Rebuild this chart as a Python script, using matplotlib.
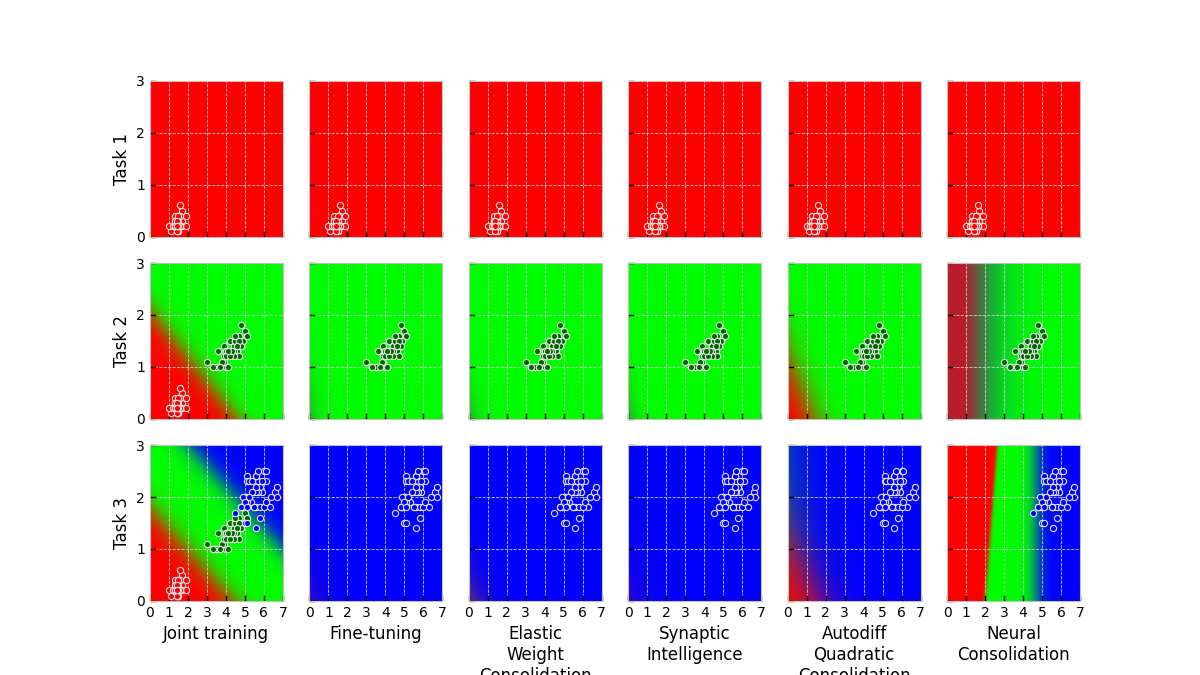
import numpy as np
import matplotlib.pyplot as plt

setosa_len = [1.4, 1.4, 1.3, 1.5, 1.4, 1.7, 1.4, 1.5, 1.4, 1.5, 1.5, 1.6, 1.4, 1.1, 1.2, 1.5, 1.3,
              1.4, 1.7, 1.5, 1.7, 1.5, 1.0, 1.7, 1.9, 1.6, 1.6, 1.5, 1.4, 1.6, 1.6, 1.5, 1.5, 1.4,
              1.5, 1.2, 1.3, 1.4, 1.3, 1.5, 1.3, 1.3, 1.3, 1.6, 1.9, 1.4, 1.6, 1.4, 1.5, 1.4]
setosa_wid = [0.2, 0.2, 0.2, 0.2, 0.2, 0.4, 0.3, 0.2, 0.2, 0.1, 0.2, 0.2, 0.1, 0.1, 0.2, 0.4, 0.4,
              0.3, 0.3, 0.3, 0.2, 0.4, 0.2, 0.5, 0.2, 0.2, 0.4, 0.2, 0.2, 0.2, 0.2, 0.4, 0.1, 0.2,
              0.2, 0.2, 0.2, 0.1, 0.2, 0.2, 0.3, 0.3, 0.2, 0.6, 0.4, 0.3, 0.2, 0.2, 0.2, 0.2]

versicolor_len = [4.7, 4.5, 4.9, 4.0, 4.6, 4.5, 4.7, 3.3, 4.6, 3.9, 3.5, 4.2, 4.0, 4.7, 3.6, 4.4, 4.5,
                  4.1, 4.5, 3.9, 4.8, 4.0, 4.9, 4.7, 4.3, 4.4, 4.8, 5.0, 4.5, 3.5, 3.8, 3.7, 3.9, 5.1,
                  4.5, 4.5, 4.7, 4.4, 4.1, 4.0, 4.4, 4.6, 4.0, 3.3, 4.2, 4.2, 4.2, 4.3, 3.0, 4.1]
versicolor_wid = [1.4, 1.5, 1.5, 1.3, 1.5, 1.3, 1.6, 1.0, 1.3, 1.4, 1.0, 1.5, 1.0, 1.4, 1.3, 1.4, 1.5,
                  1.0, 1.5, 1.1, 1.8, 1.3, 1.5, 1.2, 1.3, 1.4, 1.4, 1.7, 1.5, 1.0, 1.1, 1.0, 1.2, 1.6,
                  1.5, 1.6, 1.5, 1.3, 1.3, 1.3, 1.2, 1.4, 1.2, 1.0, 1.3, 1.2, 1.3, 1.3, 1.1, 1.3]

virginica_len = [6.0, 5.1, 5.9, 5.6, 5.8, 6.6, 4.5, 6.3, 5.8, 6.1, 5.1, 5.3, 5.5, 5.0, 5.1, 5.3, 5.5,
                 6.7, 5.0, 5.7, 4.9, 6.7, 4.9, 5.7, 6.0, 4.8, 4.9, 5.6, 5.8, 6.1, 6.4, 5.6, 5.1, 5.6,
                 6.1, 5.6, 5.5, 4.8, 5.4, 5.6, 5.1, 5.1, 5.9, 5.7, 5.2, 5.0, 5.2, 5.4, 5.1]
virginica_wid = [2.5, 1.9, 2.1, 1.8, 2.2, 2.1, 1.7, 1.8, 1.8, 2.5, 2.0, 1.9, 2.1, 2.0, 2.4, 2.3, 1.8,
                 2.2, 1.5, 2.3, 2.0, 2.0, 1.8, 2.1, 1.8, 1.8, 1.8, 2.1, 1.6, 1.9, 2.0, 2.2, 1.5, 1.4,
                 2.3, 2.4, 1.8, 1.8, 2.1, 2.4, 2.3, 1.9, 2.3, 2.5, 2.3, 1.9, 2.0, 2.3, 1.8]

methods = ["Joint training", "Fine-tuning", "Elastic\nWeight\nConsolidation",
           "Synaptic\nIntelligence", "Autodiff\nQuadratic\nConsolidation", "Neural\nConsolidation"]
tasks = ["Task 1", "Task 2", "Task 3"]

# class logits min(a*x + b*y + c, cap) for red / green / blue, estimated from each panel's shading
INF = np.inf
task1_logits = [[(0, 0, 10, INF), (0, 0, 0, INF), (0, 0, 0, INF)]] * 6
task2_logits = [
    [(-2.61, -5.71, 12, INF), (0, 0, 0, INF), (0, 0, -20, INF)],
    [(-2.5, -1.5, -1.4, INF), (0, 0, 0, INF), (-2.5, -1.5, -1.4, INF)],
    [(-2.5, -2.2, -1.3, INF), (0, 0, 0, INF), (-2.5, -2.2, -1.3, INF)],
    [(-2.5, -2.2, -1.3, INF), (0, 0, 0, INF), (-2.5, -2.2, -1.3, INF)],
    [(-2.14, -2.5, 3, INF), (0, 0, 0, INF), (0, 0, -20, INF)],
    [(-2.4, 0, 3.9, 1.9), (0, 0, 0, INF), (-1.0, 0, 1.2, 0.44)],
]
task3_logits = [
    [(-2.27, -5.56, 10, INF), (0, 0, 0, INF), (2.4, 6, -22.8, INF)],
    [(-1.5, -2.0, -1.3, INF), (-1.5, -2.0, -2.8, INF), (0, 0, 0, INF)],
    [(-1.8, -2.5, -0.3, INF), (-1.8, -2.5, -1.0, INF), (0, 0, 0, INF)],
    [(-1.2, -1.6, -1.5, INF), (-1.2, -1.6, -3.0, INF), (0, 0, 0, INF)],
    [(-1.67, -2.08, 2.7, INF), (-1.2, -0.3, -0.3, INF), (0, 0, 0, INF)],
    [(-20, 4.34, 40, INF), (0, 0, 0, INF), (4, 0, -18.8, INF)],
]
all_logits = [task1_logits, task2_logits, task3_logits]


def region_image(logits, n=300):
    xs = np.linspace(0, 7, n)
    ys = np.linspace(0, 3, n)
    X, Y = np.meshgrid(xs, ys)
    z = np.stack([np.minimum(a * X + b * Y + c, cap) for a, b, c, cap in logits], axis=-1)
    z = z - z.max(axis=-1, keepdims=True)
    p = np.exp(z)
    return p / p.sum(axis=-1, keepdims=True)


fig, axes = plt.subplots(3, 6, figsize=(12, 6.75), dpi=100, sharex=True, sharey=True)
fig.subplots_adjust(hspace=0.17)

for r in range(3):
    for c in range(6):
        ax = axes[r, c]
        ax.imshow(region_image(all_logits[r][c]), extent=[0, 7, 0, 3], origin='lower',
                  aspect='auto', interpolation='bilinear', zorder=0)

        pts = [(setosa_len, setosa_wid, 'red')]
        if r >= 1:
            pts = [(versicolor_len, versicolor_wid, '#006a00')]
            if c == 0:
                pts = [(setosa_len, setosa_wid, 'red')] + pts
        if r == 2:
            pts = [(virginica_len, virginica_wid, 'blue')]
            if c == 0:
                pts = [(setosa_len, setosa_wid, 'red'),
                       (versicolor_len, versicolor_wid, '#006a00')] + pts
        for px, py, col in pts:
            ax.scatter(px, py, s=20, c=col, edgecolors='#e4e4e4', linewidths=0.8, zorder=3)

        ax.set_xlim(0, 7)
        ax.set_ylim(0, 3)
        ax.set_xticks(range(8))
        ax.set_yticks(range(4))
        ax.grid(True, color='#d0d0d0', linestyle='--', linewidth=0.6)
        ax.tick_params(direction='in', length=4, width=1, labelsize=10)
        for sp in ax.spines.values():
            sp.set_color('#c0c0c0')
        if c == 0:
            ax.set_ylabel(tasks[r], fontsize=12)
        if r == 2:
            ax.set_xlabel(methods[c], fontsize=12)

fig.savefig('out.png', dpi=100)
